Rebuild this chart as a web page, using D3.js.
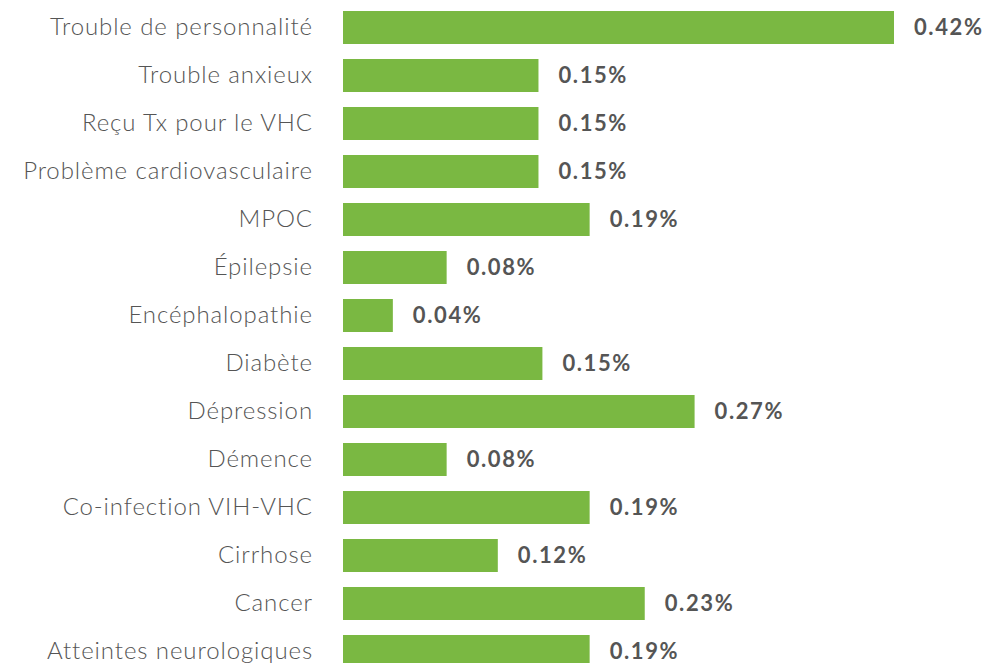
<!DOCTYPE html>
<html>
<head>
<meta charset="utf-8">
<script src="https://cdn.jsdelivr.net/npm/d3@7"></script>
<style>
  body { margin: 0; background: #fff; }
</style>
</head>
<body>
<div id="app"></div>
<script>
// data, top to bottom as shown
const categories = [
  "Trouble de personnalité", "Trouble anxieux", "Reçu Tx pour le VHC",
  "Problème cardiovasculaire", "MPOC", "Épilepsie", "Encéphalopathie",
  "Diabète", "Dépression", "Démence", "Co-infection VIH-VHC", "Cirrhose",
  "Cancer", "Atteintes neurologiques"
];
const values = [0.42, 0.149, 0.149, 0.149, 0.188, 0.079, 0.038,
                0.152, 0.268, 0.079, 0.188, 0.118, 0.23, 0.188];

const width = 989, height = 663;
const margin = {left: 343};

const svg = d3.select("#app")
    .append("svg")
    .attr("width", width)
    .attr("height", height);

const x = d3.scaleLinear()
    .domain([0, 0.42])
    .range([margin.left, 894]);

const y = d3.scaleBand()
    .domain(categories)
    .range([3.5, 675.5])
    .paddingInner(15 / 48)
    .paddingOuter(15 / 96);

const rows = svg.append("g")
    .selectAll("g")
    .data(categories.map((c, i) => ({name: c, value: values[i]})))
    .join("g");

rows.append("rect")
    .attr("x", x(0))
    .attr("y", d => y(d.name))
    .attr("width", d => x(d.value) - x(0))
    .attr("height", y.bandwidth())
    .attr("fill", "#7ab842");

// category labels
rows.append("text")
    .attr("x", x(0) - 30)
    .attr("y", d => y(d.name) + y.bandwidth() / 2)
    .attr("dy", "0.33em")
    .attr("text-anchor", "end")
    .attr("font-family", "Lato, 'Open Sans', sans-serif")
    .attr("font-weight", 300)
    .attr("font-size", 24)
    .attr("letter-spacing", 0.9)
    .attr("fill", "#555")
    .text(d => d.name);

// value labels
rows.append("text")
    .attr("x", d => x(d.value) + 20)
    .attr("y", d => y(d.name) + y.bandwidth() / 2)
    .attr("dy", "0.36em")
    .attr("font-family", "Lato, 'Open Sans', sans-serif")
    .attr("font-weight", 700)
    .attr("font-size", 22)
    .attr("letter-spacing", 1.6)
    .attr("fill", "#555")
    .text(d => d.value.toFixed(2) + "%");
</script>
</body>
</html>
